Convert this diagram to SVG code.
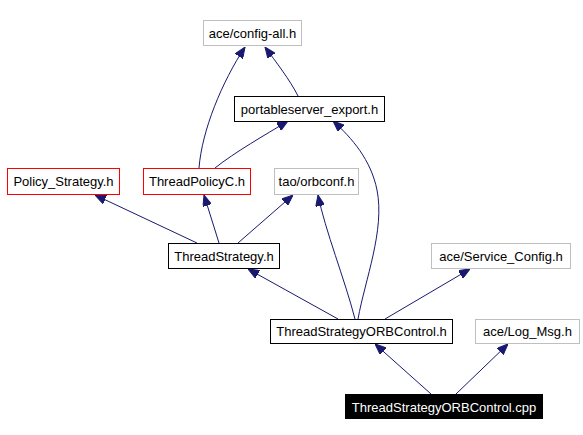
<svg xmlns="http://www.w3.org/2000/svg" width="583" height="435" viewBox="0 0 583 435">
<defs>
<marker id="ah" markerUnits="userSpaceOnUse" markerWidth="11" markerHeight="9" refX="11" refY="4.5" orient="auto"><path d="M0,0 L11,4.5 L0,9 z" fill="#191970" stroke="#191970" stroke-width="1"/></marker>
</defs>
<style>
.e{fill:none;stroke:#191970;stroke-width:1;marker-end:url(#ah)}
text{font-family:"Liberation Sans",Arial,sans-serif;font-size:13px;text-anchor:middle;fill:#000}
.g{fill:#fff;stroke:#bfbfbf}
.r{fill:#fff;stroke:#ff0000}
.b{fill:#fff;stroke:#000}
.k{fill:#000;stroke:#000}
</style>
<rect width="583" height="435" fill="#fff"/>
<g id="connectors">
<path class="e" d="M298,96 C290,80 276,62 265,47"/>
<path class="e" d="M199,168 C202,130 222,82 245,47"/>
<path class="e" d="M215,168 C235,152 265,135 288,121"/>
<path class="e" d="M197,243 L95,195"/>
<path class="e" d="M219,243 L204,195"/>
<path class="e" d="M238,243 L293,195"/>
<path class="e" d="M338,319 L248,269"/>
<path class="e" d="M355,319 C345,280 325,230 318,195"/>
<path class="e" d="M358,319 C365,280 385,230 377,190 C371,160 352,138 333,121"/>
<path class="e" d="M385,319 L470,269"/>
<path class="e" d="M431,394 L375,344"/>
<path class="e" d="M456,394 L508,344"/>
</g>
<g id="config_all"><rect class="g" x="203.5" y="20.5" width="98" height="25"/><text x="252.5" y="38">ace/config-all.h</text></g>
<g id="portableserver_export"><rect class="b" x="234.5" y="96.5" width="150" height="25"/><text x="309.5" y="114">portableserver_export.h</text></g>
<g id="policy_strategy"><rect class="r" x="7.5" y="168.5" width="112" height="26"/><text x="63.5" y="186">Policy_Strategy.h</text></g>
<g id="threadpolicyc"><rect class="r" x="143.5" y="168.5" width="107" height="26"/><text x="197" y="186">ThreadPolicyC.h</text></g>
<g id="orbconf"><rect class="g" x="274.5" y="168.5" width="84" height="26"/><text x="316.5" y="186">tao/orbconf.h</text></g>
<g id="threadstrategy"><rect class="b" x="168.5" y="243.5" width="111" height="25"/><text x="224" y="261">ThreadStrategy.h</text></g>
<g id="service_config"><rect class="g" x="431.5" y="243.5" width="139" height="25"/><text x="501" y="261">ace/Service_Config.h</text></g>
<g id="tso_h"><rect class="b" x="270.5" y="319.5" width="182" height="24"/><text x="361.5" y="336">ThreadStrategyORBControl.h</text></g>
<g id="log_msg"><rect class="g" x="475.5" y="319.5" width="104" height="24"/><text x="527.5" y="336">ace/Log_Msg.h</text></g>
<g id="tso_cpp"><rect class="k" x="345.5" y="394.5" width="197" height="24"/><text x="444" y="412" fill="#fff" style="fill:#fff">ThreadStrategyORBControl.cpp</text></g>
</svg>
